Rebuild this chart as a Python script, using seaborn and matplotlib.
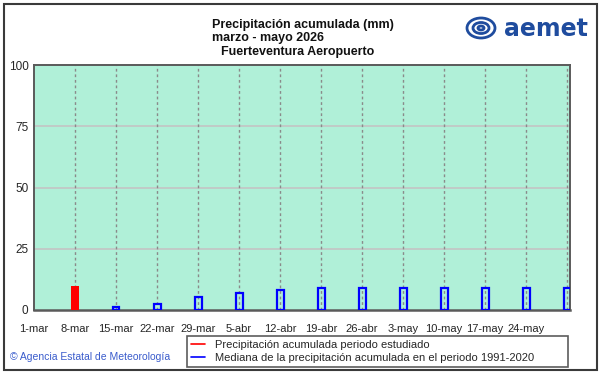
import matplotlib
matplotlib.use("Agg")
import matplotlib.pyplot as plt
import seaborn as sns
import pandas as pd
from matplotlib.patches import Rectangle, Ellipse
from matplotlib.lines import Line2D

# ---- data ----
tick_days = [0, 7, 14, 21, 28, 35, 42, 49, 56, 63, 70, 77, 84, 91]
tick_labels = ["1-mar", "8-mar", "15-mar", "22-mar", "29-mar", "5-abr", "12-abr",
               "19-abr", "26-abr", "3-may", "10-may", "17-may", "24-may"]
obs_days = [7]
obs_values = [9.7]
median_days = [14, 21, 28, 35, 42, 49, 56, 63, 70, 77, 84, 91]
median_values = [1.1, 2.4, 5.4, 6.8, 8.3, 8.8, 8.8, 8.8, 8.8, 8.8, 8.8, 8.8]
y_ticks = [0, 25, 50, 75, 100]
title_lines = ["Precipitación acumulada (mm)", "marzo - mayo 2026", "Fuerteventura Aeropuerto"]
legend_labels = ["Precipitación acumulada periodo estudiado",
                 "Mediana de la precipitación acumulada en el periodo 1991-2020"]
footer = "© Agencia Estatal de Meteorología"

sns.set_theme(style="white")
plt.rcParams["font.family"] = ["Liberation Sans", "DejaVu Sans"]

W, H = 601, 374
fig = plt.figure(figsize=(W / 100, H / 100), dpi=100)
fig.patch.set_facecolor("white")

def fx(px):
    return px / W

def fy(py):
    return 1 - py / H

L, R, T, B = 34, 570, 65, 310
ax = fig.add_axes([fx(L), fy(B), fx(R) - fx(L), fy(T) - fy(B)])
ax.set_facecolor("#b0f0d8")

df_med = pd.DataFrame({"day": median_days, "val": median_values})
df_obs = pd.DataFrame({"day": obs_days, "val": obs_values})

# grid
for y in y_ticks[1:-1]:
    ax.axhline(y, color="#c4c4c4", lw=1.2, zorder=0.5)
for d in tick_days[1:]:
    ax.axvline(d, color="#8a8a8a", lw=1.0, ls=(0, (2, 2)), zorder=0.6)

sns.barplot(data=df_med, x="day", y="val", native_scale=True, fill=False,
            color="#0000ff", width=0.17, linewidth=1.6, ax=ax, zorder=3,
            errorbar=None)
sns.barplot(data=df_obs, x="day", y="val", native_scale=True,
            color="#ff0000", saturation=1, width=1.2, linewidth=0, ax=ax,
            zorder=4, errorbar=None)

ax.set_xlim(0, 91.5)
ax.set_ylim(0, 100)
ax.set_xlabel("")
ax.set_ylabel("")
ax.set_xticks(tick_days)
ax.set_xticklabels(tick_labels + [""], fontsize=8)
ax.set_yticks(y_ticks)
ax.set_yticklabels([str(v) for v in y_ticks], fontsize=8.5)
ax.tick_params(axis="x", length=0, pad=10)
ax.tick_params(axis="y", length=0, pad=4)
for s in ax.spines.values():
    s.set_color("#5a5a5a")
    s.set_linewidth(1.4)
ax.spines["bottom"].set_linewidth(1.8)

# titles
fig.text(fx(212), fy(25), title_lines[0], fontsize=9, fontweight="bold",
         ha="left", va="center", color="#111")
fig.text(fx(212), fy(38.5), title_lines[1], fontsize=9, fontweight="bold",
         ha="left", va="center", color="#111")
fig.text(fx(298), fy(52), title_lines[2], fontsize=9, fontweight="bold",
         ha="center", va="center", color="#111")

# logo
logo_col = "#1f4c9e"
fig.text(fx(504), fy(29), "aemet", fontsize=17, fontweight="bold",
         family="DejaVu Sans", color=logo_col, ha="left", va="center")
for (cx, cy, w, h) in [(481, 28, 28, 20), (481, 28, 16, 11), (481, 28, 6, 4)]:
    fig.add_artist(Ellipse((fx(cx), fy(cy)), w / W, h / H, fill=False,
                           edgecolor=logo_col, lw=2.0, transform=fig.transFigure))

# legend
handles = [Line2D([], [], color="#ff0000", lw=1.2),
           Line2D([], [], color="#0000ff", lw=1.2)]
leg = fig.legend(handles, legend_labels, loc="lower left",
                 bbox_to_anchor=(fx(187), fy(367), fx(568) - fx(187), fy(337) - fy(367)),
                 mode="expand", fontsize=8, frameon=True, fancybox=False,
                 handlelength=1.2, handletextpad=0.9, labelspacing=0.2,
                 borderpad=0.4, borderaxespad=0)
leg.get_frame().set_edgecolor("#333333")
leg.get_frame().set_linewidth(1.2)

fig.text(fx(10), fy(357), footer, fontsize=7.5, color="#3a5ccc",
         ha="left", va="center")

# figure border
fig.add_artist(Rectangle((fx(4), fy(370)), fx(597) - fx(4), fy(4) - fy(370),
                         fill=False, edgecolor="#3a3a3a", lw=1.5,
                         transform=fig.transFigure))

fig.savefig("out.png", dpi=100)
